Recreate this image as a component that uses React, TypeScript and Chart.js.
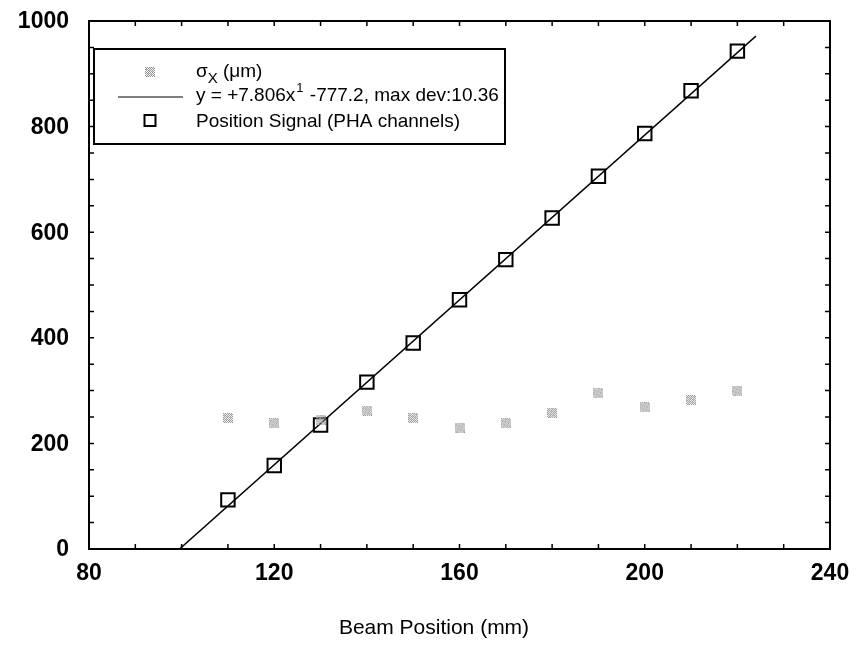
import React, { useEffect, useRef } from 'react';
import { Chart, registerables } from 'chart.js';
Chart.register(...registerables);

const beamPositions = [110, 120, 130, 140, 150, 160, 170, 180, 190, 200, 210, 220];
const positionSignal = [93, 158, 235, 316, 390, 472, 548, 627, 706, 787, 868, 943];
const sigmaX = [248, 238, 245, 262, 248, 230, 238, 258, 295, 268, 282, 300];
const fitSlope = 7.806;
const fitIntercept = -777.2;
const fitXStart = 99.6;
const fitXEnd = 224;
const xTickLabels = [80, 120, 160, 200, 240];
const yTickLabels = [0, 200, 400, 600, 800, 1000];
const xMin = 80, xMax = 240, xMinor = 10;
const yMin = 0, yMax = 1000, yMinor = 50;
const legendLabels = ['σ', 'X', ' (μm)', 'y = +7.806x', '1', ' -777.2, max dev:10.36', 'Position Signal (PHA channels)'];
const xTitle = 'Beam Position (mm)';

function makeDither(): HTMLCanvasElement {
  const c = document.createElement('canvas');
  c.width = 10; c.height = 10;
  const g = c.getContext('2d')!;
  for (let i = 0; i < 10; i++) {
    for (let j = 0; j < 10; j++) {
      if ((i + j) % 2 === 0) { g.fillStyle = '#939393'; g.fillRect(i, j, 1, 1); }
      else if ((i * 3 + j) % 5 === 0) { g.fillStyle = '#cfcfcf'; g.fillRect(i, j, 1, 1); }
    }
  }
  return c;
}

export default function App() {
  const ref = useRef<HTMLCanvasElement>(null);
  useEffect(() => {
    document.body.style.margin = '0';
    const dither = makeDither();
    const font = '"Liberation Sans", Arial, sans-serif';
    const framePlugin = {
      id: 'frame',
      afterDraw(chart: any) {
        const { ctx, chartArea: a, scales } = chart;
        const xs = scales.x, ys = scales.y;
        ctx.save();
        ctx.strokeStyle = '#000';
        ctx.lineWidth = 2;
        ctx.strokeRect(a.left, a.top, a.right - a.left, a.bottom - a.top);
        ctx.lineWidth = 1.5;
        ctx.beginPath();
        for (let v = xMin + xMinor; v < xMax; v += xMinor) {
          const px = xs.getPixelForValue(v);
          ctx.moveTo(px, a.bottom); ctx.lineTo(px, a.bottom - 5);
          ctx.moveTo(px, a.top); ctx.lineTo(px, a.top + 5);
        }
        for (let v = yMin + yMinor; v < yMax; v += yMinor) {
          const py = ys.getPixelForValue(v);
          ctx.moveTo(a.left, py); ctx.lineTo(a.left + 5, py);
          ctx.moveTo(a.right, py); ctx.lineTo(a.right - 5, py);
        }
        ctx.stroke();

        // tick labels
        ctx.fillStyle = '#000';
        ctx.font = `bold 23px ${font}`;
        ctx.textBaseline = 'middle';
        ctx.textAlign = 'right';
        yTickLabels.forEach((v) => ctx.fillText(String(v), 69, ys.getPixelForValue(v) + 1));
        ctx.textAlign = 'center';
        xTickLabels.forEach((v) => ctx.fillText(String(v), xs.getPixelForValue(v), a.bottom + 25));
        ctx.font = `21px ${font}`;
        ctx.fillText(xTitle, 434, a.bottom + 79);

        // legend
        const lx = 94, ly = 49, lw = 411, lh = 95;
        ctx.lineWidth = 2;
        ctx.fillStyle = '#fff';
        ctx.fillRect(lx, ly, lw, lh);
        ctx.strokeRect(lx, ly, lw, lh);
        const mx = 150;
        ctx.drawImage(dither, mx - 5, 67);
        ctx.lineWidth = 1.2;
        ctx.beginPath(); ctx.moveTo(118, 97); ctx.lineTo(183, 97); ctx.stroke();
        ctx.lineWidth = 2;
        ctx.strokeRect(mx - 5.5, 115, 11, 11);
        ctx.fillStyle = '#000';
        ctx.textAlign = 'left';
        ctx.textBaseline = 'alphabetic';
        ctx.font = `19px ${font}`;
        const tx = 196;
        ctx.fillText(legendLabels[0], tx, 77);
        let w = ctx.measureText(legendLabels[0]).width;
        ctx.font = `15px ${font}`;
        ctx.fillText(legendLabels[1], tx + w, 83);
        w += ctx.measureText(legendLabels[1]).width;
        ctx.font = `19px ${font}`;
        ctx.fillText(legendLabels[2], tx + w, 77);
        ctx.fillText(legendLabels[3], tx, 101);
        w = ctx.measureText(legendLabels[3]).width;
        ctx.font = `13px ${font}`;
        ctx.fillText(legendLabels[4], tx + w + 1, 92);
        w += ctx.measureText(legendLabels[4]).width + 2;
        ctx.font = `19px ${font}`;
        ctx.fillText(legendLabels[5], tx + w, 101);
        ctx.fillText(legendLabels[6], tx, 127);
        ctx.restore();
      },
    };
    const chart = new Chart(ref.current!, {
      type: 'scatter',
      data: {
        datasets: [
          {
            label: 'sigma',
            data: beamPositions.map((x, i) => ({ x, y: sigmaX[i] })),
            pointStyle: dither as any,
            pointRadius: 5,
          },
          {
            label: 'fit',
            type: 'line',
            data: [fitXStart, fitXEnd].map((x) => ({ x, y: fitSlope * x + fitIntercept })),
            borderColor: '#000',
            borderWidth: 1.4,
            pointRadius: 0,
            showLine: true,
          },
          {
            label: 'signal',
            data: beamPositions.map((x, i) => ({ x, y: positionSignal[i] })),
            pointStyle: 'rect',
            pointRadius: 9.5,
            borderColor: '#000',
            borderWidth: 2,
            backgroundColor: 'rgba(0,0,0,0)',
          },
        ],
      },
      options: {
        animation: false,
        responsive: false,
        layout: { padding: { left: 0, top: 21, right: 28, bottom: 0 } },
        plugins: { legend: { display: false }, tooltip: { enabled: false } },
        scales: {
          x: {
            type: 'linear', min: xMin, max: xMax,
            grid: { display: false },
            border: { display: false },
            ticks: { display: false },
            afterFit(scale: any) { scale.height = 647 - 549; },
          },
          y: {
            type: 'linear', min: yMin, max: yMax,
            grid: { display: false },
            border: { display: false },
            ticks: { display: false },
            afterFit(scale: any) { scale.width = 89; },
          },
        },
      },
      plugins: [framePlugin],
    });
    return () => chart.destroy();
  }, []);
  return <canvas ref={ref} width={858} height={647} style={{ display: 'block' }} />;
}
